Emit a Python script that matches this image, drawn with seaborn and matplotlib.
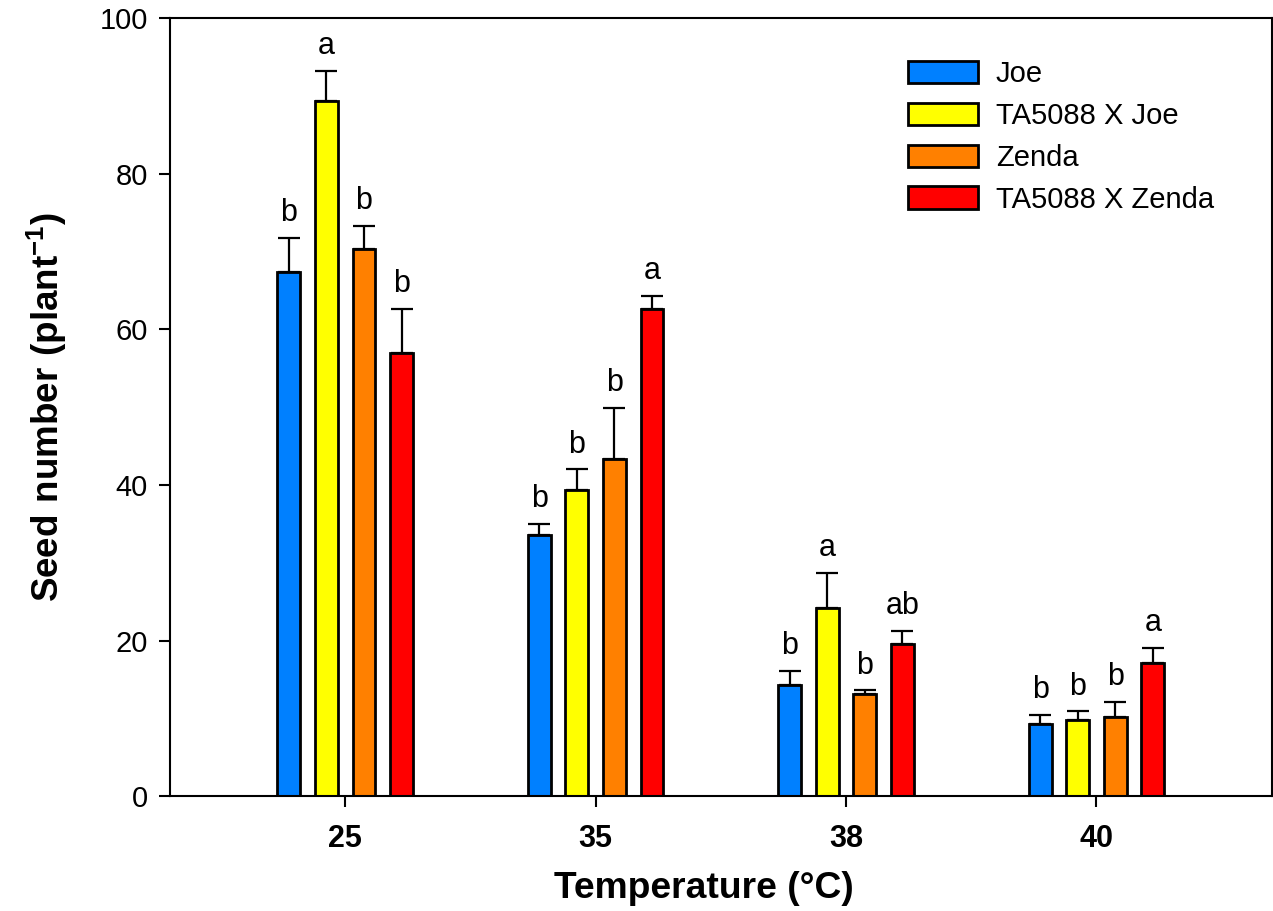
import matplotlib
matplotlib.use("Agg")
import matplotlib.pyplot as plt
import seaborn as sns
import pandas as pd
import numpy as np

temperatures = ["25", "35", "38", "40"]
genotypes = ["Joe", "TA5088 X Joe", "Zenda", "TA5088 X Zenda"]
joe = [67.4, 33.6, 14.3, 9.3]
joe_err = [4.4, 1.4, 1.8, 1.2]
ta_joe = [89.4, 39.3, 24.2, 9.8]
ta_joe_err = [3.8, 2.7, 4.5, 1.1]
zenda = [70.4, 43.4, 13.1, 10.2]
zenda_err = [2.9, 6.5, 0.5, 1.9]
ta_zenda = [57.0, 62.6, 19.6, 17.1]
ta_zenda_err = [5.6, 1.7, 1.7, 2.0]
letters_joe = ["b", "b", "b", "b"]
letters_ta_joe = ["a", "b", "a", "b"]
letters_zenda = ["b", "b", "b", "b"]
letters_ta_zenda = ["b", "a", "ab", "a"]
colors = ["#0080FF", "#FFFF00", "#FF8000", "#FF0000"]

means = [joe, ta_joe, zenda, ta_zenda]
errs = [joe_err, ta_joe_err, zenda_err, ta_zenda_err]
letters = [letters_joe, letters_ta_joe, letters_zenda, letters_ta_zenda]

rows = []
for g, m in zip(genotypes, means):
    for t, v in zip(temperatures, m):
        rows.append({"Temperature": t, "Genotype": g, "Seed": v})
df = pd.DataFrame(rows)

sns.set_style("white")
plt.rcParams["font.family"] = ["Liberation Sans", "DejaVu Sans"]
plt.rcParams["mathtext.fontset"] = "custom"
plt.rcParams["mathtext.rm"] = "Liberation Sans"
plt.rcParams["mathtext.bf"] = "Liberation Sans:bold"
plt.rcParams["text.color"] = "black"
plt.rcParams["axes.labelcolor"] = "black"
plt.rcParams["xtick.color"] = "black"
plt.rcParams["ytick.color"] = "black"

fig = plt.figure(figsize=(12.73, 9.11), dpi=100)
ax = fig.add_axes([0.1335, 0.126, 0.8655, 0.854])

sns.barplot(data=df, x="Temperature", y="Seed", hue="Genotype",
            order=temperatures, hue_order=genotypes, palette=colors,
            saturation=1, width=0.6, gap=0.39, edgecolor="black", linewidth=2.0,
            errorbar=None, ax=ax, legend=True)

# error bars and letters
for gi, cont in enumerate(ax.containers[:4]):
    for ti, patch in enumerate(cont.patches):
        xc = patch.get_x() + patch.get_width() / 2
        h = patch.get_height()
        e = errs[gi][ti]
        ax.errorbar(xc, h, yerr=[[0], [e]], fmt="none", ecolor="black",
                    elinewidth=1.6, capsize=7.9, capthick=1.6, zorder=1)
        ax.annotate(letters[gi][ti], (xc, h + e), xytext=(0, 7),
                    textcoords="offset points", ha="center", va="bottom",
                    fontsize=22, color="black")

ax.set_xlim(-0.70, 3.70)
ax.set_ylim(0, 100)
ax.set_yticks([0, 20, 40, 60, 80, 100])
for s in ax.spines.values():
    s.set_visible(True)
    s.set_linewidth(1.5)
    s.set_color("black")
ax.tick_params(axis="both", direction="out", length=8, width=1.5,
               color="black", labelcolor="black", bottom=True, left=True)
ax.tick_params(axis="y", labelsize=21, pad=8)
ax.tick_params(axis="x", labelsize=22, pad=12)
for lab in ax.get_xticklabels():
    lab.set_fontweight("bold")

ax.set_xlabel("Temperature (°C)", fontsize=26.8, fontweight="bold", labelpad=12)
ax.xaxis.label.set_x(0.4846)
ax.set_ylabel(r"$\mathbf{Seed\ number\ (plant^{-1})}$", fontsize=26.5, labelpad=22)

leg = ax.legend(loc="upper left", bbox_to_anchor=(0.651, 0.972), frameon=False,
                fontsize=21, handlelength=2.4, handleheight=0.8,
                handletextpad=0.62, labelspacing=0.47, borderaxespad=0.3)
for h in leg.legend_handles:
    h.set_edgecolor("black")
    h.set_linewidth(2.0)
for t in leg.get_texts():
    t.set_color("black")

fig.savefig("out.png", dpi=100)
